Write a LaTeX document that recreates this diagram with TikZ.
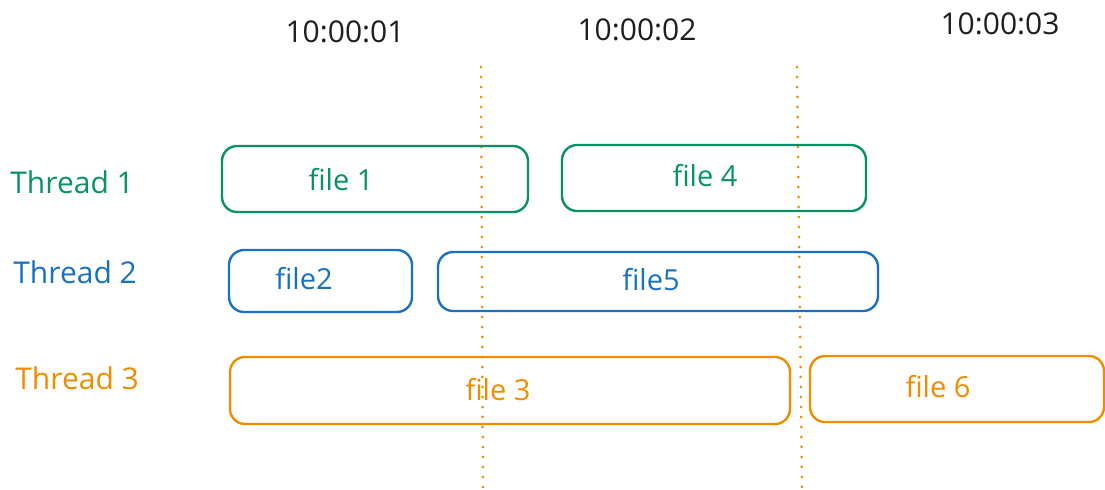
\documentclass[tikz,border=0pt]{standalone}
\usepackage{fontspec}
\setmainfont{Open Sans}
\definecolor{tgreen}{HTML}{099268}
\definecolor{tblue}{HTML}{1971C2}
\definecolor{torange}{HTML}{F08C00}
\definecolor{tink}{HTML}{1E1E1E}
\tikzset{
  filebox/.style={draw=#1, line width=1.2pt, rounded corners=7.5pt},
  filetext/.style={text=#1, inner sep=0pt, font=\fontsize{14.5}{16}\selectfont},
  threadlabel/.style={text=#1, anchor=west, inner sep=0pt, font=\fontsize{15}{18}\selectfont},
  ticklabel/.style={text=tink, inner sep=0pt, font=\fontsize{15}{18}\selectfont},
  secline/.style={torange, line width=1.5pt, line cap=round, dash pattern=on 0pt off 5pt}
}
\begin{document}
\begin{tikzpicture}[x=0.5pt,y=-0.5pt]
  \useasboundingbox (0,0) rectangle (1105,489);

  %time stamps
  \node[ticklabel] (t1) at (345,32) {10:00:01};
  \node[ticklabel] (t2) at (637,30) {10:00:02};
  \node[ticklabel] (t3) at (1000,24) {10:00:03};

  %second boundaries
  \coordinate (s1top) at (481,67);
  \coordinate (s1bot) at (483,489);
  \coordinate (s2top) at (797,67);
  \coordinate (s2bot) at (802,489);
  \draw[secline] (s1top) -- (s1bot);
  \draw[secline] (s2top) -- (s2bot);

  %threads
  \node[threadlabel=tgreen] (th1) at (10,182) {Thread 1};
  \node[threadlabel=tblue] (th2) at (13,272) {Thread 2};
  \node[threadlabel=torange] (th3) at (15,378) {Thread 3};

  %thread 1
  \draw[filebox=tgreen] (222,146) rectangle (528,212);
  \node[filetext=tgreen] (file1) at (341,180) {file 1};
  \draw[filebox=tgreen] (562,145) rectangle (866,211);
  \node[filetext=tgreen] (file4) at (705,176) {file 4};

  %thread 2
  \draw[filebox=tblue] (229,250) rectangle (412,312);
  \node[filetext=tblue] (file2) at (304,279) {file2};
  \draw[filebox=tblue] (438,252) rectangle (878,311);
  \node[filetext=tblue] (file5) at (651,280) {file5};

  %thread 3
  \draw[filebox=torange] (230,357) rectangle (790,424);
  \node[filetext=torange] (file3) at (498,390) {file 3};
  \draw[filebox=torange] (810,356) rectangle (1104,422);
  \node[filetext=torange] (file6) at (938,387) {file 6};
\end{tikzpicture}
\end{document}
